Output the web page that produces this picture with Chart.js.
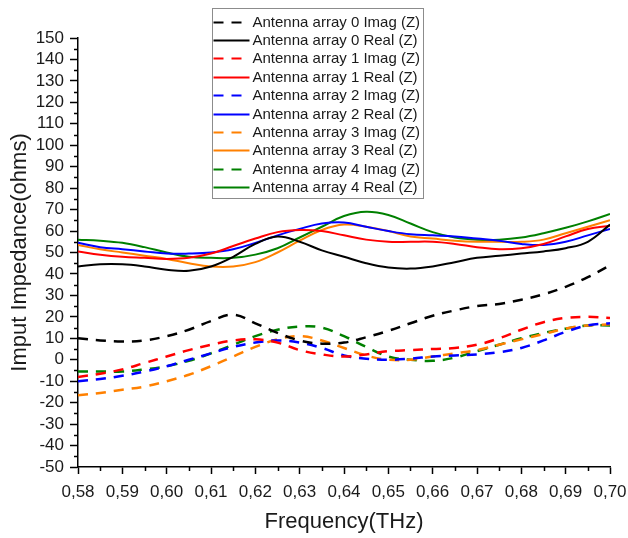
<!DOCTYPE html>
<html>
<head>
<meta charset="utf-8">
<script src="https://cdn.jsdelivr.net/npm/chart.js@4.4.0/dist/chart.umd.min.js"></script>
<style>
  html, body { margin: 0; padding: 0; background: #fff; }
  #wrap { width: 628px; height: 538px; }
</style>
</head>
<body>
<div id="wrap"><canvas id="chart" width="628" height="538"></canvas></div>
<script>
'use strict';

/* Data (THz / ohms) */
const freqs = [0.580, 0.585, 0.590, 0.595, 0.600, 0.605, 0.610, 0.615, 0.620, 0.625, 0.630, 0.635, 0.640,
  0.645, 0.650, 0.655, 0.660, 0.665, 0.670, 0.675, 0.680, 0.685, 0.690, 0.695, 0.700];

const array0Imag = [10, 9, 8.5, 9, 11, 14, 18, 21, 17, 12.5, 9, 7.5, 8, 10.5, 13.5, 17, 20.5, 23, 25, 26, 28, 30.5, 34, 38.5, 44];
const array0Real = [43.5, 44.5, 44.5, 43.5, 42, 41.5, 43.5, 48, 54, 57.5, 55, 51, 48, 45, 43, 42.5, 43.5, 45.5, 47.5, 48.5, 49.5, 50.5, 52, 55, 63];
const array1Imag = [-8, -6.5, -4.5, -1.5, 1.5, 4.5, 7, 9, 9.5, 8, 4.5, 2.5, 1.5, 2.5, 4, 4.5, 5, 5.5, 7, 10, 14, 17.5, 19.5, 20, 19.5];
const array1Real = [50.5, 49, 48, 47.5, 47, 47.5, 49.5, 53, 56.5, 59.5, 60.5, 60, 58, 56, 55, 55, 55, 54, 52.5, 51.5, 52, 54, 57.5, 61, 62.5];
const array2Imag = [-10, -9, -7.5, -5.5, -3, 0, 3, 6, 8, 9, 8, 5.5, 2, 0.5, 0, 0.5, 1.5, 2, 2.5, 3.5, 5.5, 9, 13, 16, 17];
const array2Real = [54.5, 52.5, 51.5, 50.5, 49.5, 49.5, 50, 51.5, 54.5, 58, 61, 63.5, 64, 62, 60, 58.5, 58, 57.5, 56.5, 55.5, 54, 53.5, 55, 58, 61];
const array3Imag = [-16.5, -15.5, -14, -12.5, -10, -7, -3, 1.5, 6, 9.5, 11, 9, 5.5, 2, 0, 0, 1.5, 3, 4.5, 7, 9.5, 12, 14.5, 16, 16.5];
const array3Real = [53.5, 51.5, 50, 48.5, 47, 45, 43.5, 43.5, 45.5, 50, 55.5, 60.5, 63, 62, 60, 57.5, 56.5, 55.5, 55, 55, 55, 56, 59, 62, 65];
const array4Imag = [-5.5, -5.5, -5.5, -4.5, -3, -0.5, 3, 7, 11, 14, 15.5, 15, 11, 6, 1.5, 0, -0.5, 1, 4, 7, 10, 12.5, 14.5, 16, 16];
const array4Real = [56, 55.5, 54.5, 52.5, 50, 48, 47.5, 47.5, 49, 52, 57, 62, 67, 69, 67.5, 63.5, 59.5, 57, 56, 56, 57, 59, 61.5, 64.5, 68];

const yTicks = { min: -50, max: 150, step: 10 };
const xTicks = { min: 0.58, max: 0.70, step: 0.01 };

const FONT = "'Liberation Sans', Arial, sans-serif";
const DASH = [10, 8];

/* Helper: pair frequencies with values */
function points(values) {
  return freqs.map((f, i) => ({ x: f, y: values[i] }));
}

function series(label, values, color, dashed) {
  return {
    label: label,
    data: points(values),
    borderColor: color,
    backgroundColor: color,
    borderWidth: dashed ? 2.5 : 2,
    borderDash: dashed ? DASH : [],
    pointRadius: 0,
    tension: 0.4,
    fill: false,
  };
}

/* Minor ticks between the labelled ones */
const minorTicks = {
  id: 'minorTicks',
  afterDraw(chart) {
    const { ctx, scales: { x, y } } = chart;
    ctx.save();
    ctx.strokeStyle = '#000';
    ctx.lineWidth = 1.5;
    ctx.beginPath();
    for (let v = yTicks.min + yTicks.step / 2; v < yTicks.max; v += yTicks.step) {
      const py = Math.round(y.getPixelForValue(v)) + 0.5;
      ctx.moveTo(x.left - 4, py);
      ctx.lineTo(x.left, py);
    }
    for (let i = 0; i < Math.round((xTicks.max - xTicks.min) / xTicks.step); i++) {
      const v = xTicks.min + (i + 0.5) * xTicks.step;
      const px = Math.round(x.getPixelForValue(v)) + 0.5;
      ctx.moveTo(px, y.bottom);
      ctx.lineTo(px, y.bottom + 4);
    }
    ctx.stroke();
    ctx.restore();
  }
};

/* Boxed legend drawn over the plot, like the original figure */
const boxLegend = {
  id: 'boxLegend',
  afterDraw(chart) {
    const ctx = chart.ctx;
    const box = { left: 212.5, top: 8.5, width: 211, height: 190 };
    const rowH = 18.4;
    ctx.save();
    ctx.fillStyle = '#fff';
    ctx.fillRect(box.left, box.top, box.width, box.height);
    ctx.strokeStyle = '#8c8c8c';
    ctx.lineWidth = 1;
    ctx.strokeRect(box.left, box.top, box.width, box.height);
    ctx.font = '15px ' + FONT;
    ctx.textBaseline = 'middle';
    ctx.fillStyle = '#1a1a1a';
    chart.data.datasets.forEach((ds, i) => {
      const cy = Math.round(box.top + 13 + i * rowH) + 0.5;
      ctx.strokeStyle = ds.borderColor;
      ctx.lineWidth = 2;
      ctx.setLineDash(ds.borderDash);
      ctx.beginPath();
      ctx.moveTo(box.left + 1, cy);
      ctx.lineTo(box.left + 37, cy);
      ctx.stroke();
      ctx.setLineDash([]);
      ctx.fillText(ds.label, box.left + 40, cy);
    });
    ctx.restore();
  }
};

const datasets = [
  series('Antenna array 0 Imag (Z)', array0Imag, '#000000', true),
  series('Antenna array 0 Real (Z)', array0Real, '#000000', false),
  series('Antenna array 1 Imag (Z)', array1Imag, '#ff0000', true),
  series('Antenna array 1 Real (Z)', array1Real, '#ff0000', false),
  series('Antenna array 2 Imag (Z)', array2Imag, '#0000ff', true),
  series('Antenna array 2 Real (Z)', array2Real, '#0000ff', false),
  series('Antenna array 3 Imag (Z)', array3Imag, '#ff8000', true),
  series('Antenna array 3 Real (Z)', array3Real, '#ff8000', false),
  series('Antenna array 4 Imag (Z)', array4Imag, '#008000', true),
  series('Antenna array 4 Real (Z)', array4Real, '#008000', false),
];

new Chart(document.getElementById('chart'), {
  type: 'line',
  data: { datasets: datasets },
  plugins: [minorTicks, boxLegend],
  options: {
    responsive: false,
    animation: false,
    layout: { padding: { left: 0, top: 38, right: 0, bottom: 0 } },
    plugins: {
      legend: { display: false },
      tooltip: { enabled: false },
    },
    scales: {
      x: {
        type: 'linear',
        min: xTicks.min,
        max: xTicks.max,
        afterFit: (scale) => { scale.height = 71; scale.paddingRight = 18; },
        border: { color: '#000', width: 1.5 },
        grid: { drawOnChartArea: false, tickLength: 7, tickColor: '#000', tickWidth: 1.5 },
        ticks: {
          stepSize: xTicks.step,
          autoSkip: false,
          maxRotation: 0,
          padding: 8,
          color: '#1a1a1a',
          font: { family: FONT, size: 17 },
          callback: (v) => v.toFixed(2).replace('.', ','),
        },
        title: {
          display: true,
          text: 'Frequency(THz)',
          color: '#1a1a1a',
          font: { family: FONT, size: 22 },
          padding: { top: 0, bottom: 3 },
        },
      },
      y: {
        min: yTicks.min,
        max: yTicks.max,
        afterFit: (scale) => { scale.width = 78; },
        border: { color: '#000', width: 1.5 },
        grid: { drawOnChartArea: false, tickLength: 8, tickColor: '#000', tickWidth: 1.5 },
        ticks: {
          stepSize: yTicks.step,
          autoSkip: false,
          padding: 6,
          color: '#1a1a1a',
          font: { family: FONT, size: 17 },
        },
        title: {
          display: true,
          text: 'Imput Impedance(ohms)',
          color: '#1a1a1a',
          font: { family: FONT, size: 22 },
          padding: { top: 7, bottom: 0 },
        },
      },
    },
  },
});
</script>
</body>
</html>
